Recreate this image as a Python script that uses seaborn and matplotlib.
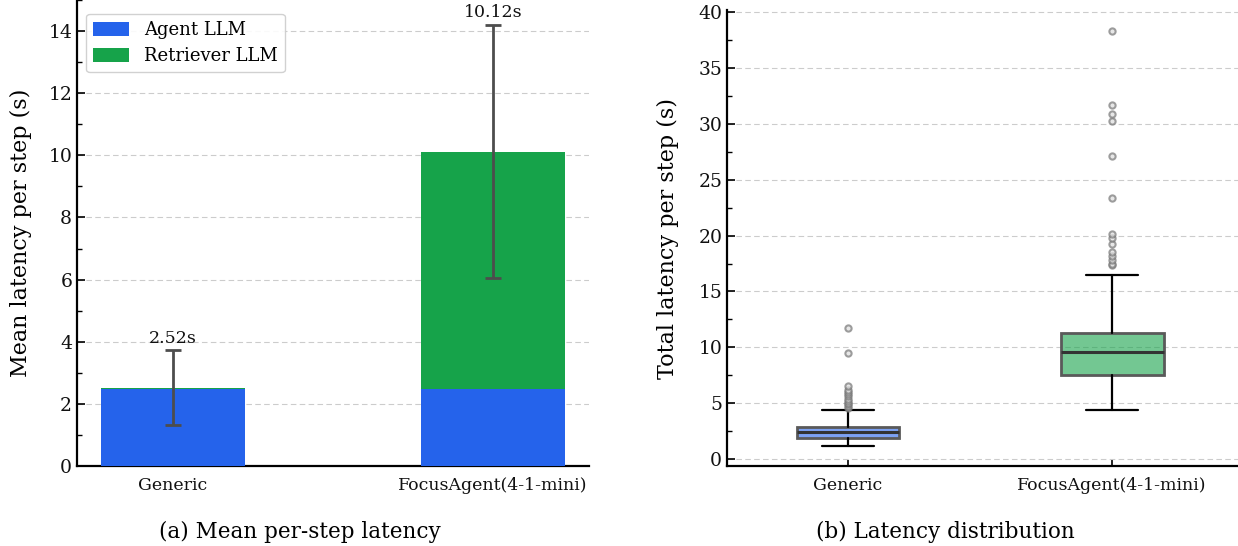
import matplotlib
matplotlib.use("Agg")
import matplotlib.pyplot as plt
import seaborn as sns
import numpy as np
from matplotlib.patches import Patch
from matplotlib.ticker import MultipleLocator

# ---------------- data ----------------
methods = ["Generic", "FocusAgent(4-1-mini)"]
agent_llm = [2.49, 2.48]
retriever_llm = [0.03, 7.64]
total_mean = [2.52, 10.12]
total_std = [1.20, 4.08]
mean_labels = ["2.52s", "10.12s"]

# box statistics
box_whislo = [1.16, 4.38]
box_q1 = [1.88, 7.55]
box_med = [2.39, 9.55]
box_q3 = [2.86, 11.30]
box_whishi = [4.38, 16.49]
fliers_generic = [4.60, 4.75, 4.90, 5.05, 5.20, 5.40, 5.60, 5.80, 6.00, 6.20, 6.50, 9.49, 11.72]
fliers_focus = [17.36, 17.50, 17.78, 18.14, 18.50, 19.21, 19.75, 20.11, 23.38, 27.14,
                30.22, 30.93, 31.65, 38.36]

BLUE = "#2563EB"
GREEN = "#16A34A"

sns.set_theme(style="ticks")
plt.rcParams["font.family"] = ["DejaVu Serif"]
plt.rcParams["axes.unicode_minus"] = False
plt.rcParams["text.color"] = "black"
plt.rcParams["axes.labelcolor"] = "black"
plt.rcParams["xtick.color"] = "black"
plt.rcParams["ytick.color"] = "black"
plt.rcParams["axes.edgecolor"] = "black"

fig = plt.figure(figsize=(12.38, 5.46), dpi=100)
ax1 = fig.add_axes([0.0622, 0.1465, 0.4136, 0.8535])
ax2 = fig.add_axes([0.5873, 0.1465, 0.4127, 0.8352])

# ---------------- (a) stacked bars ----------------
sns.barplot(x=methods, y=total_mean, color=GREEN, saturation=1, width=0.45,
            errorbar=None, ax=ax1, zorder=2, linewidth=0, edgecolor="none")
sns.barplot(x=methods, y=agent_llm, color=BLUE, saturation=1, width=0.45,
            errorbar=None, ax=ax1, zorder=3, linewidth=0, edgecolor="none")
ax1.errorbar(np.arange(len(methods)), total_mean, yerr=total_std, fmt="none",
             ecolor="#4d4d4d", elinewidth=2, capsize=5.5, capthick=2, zorder=4)
for i, (m, s, lab) in enumerate(zip(total_mean, total_std, mean_labels)):
    ax1.text(i, m + s + 0.12, lab, ha="center", va="bottom", fontsize=12.5, color="#111")

ax1.set_xlim(-0.3, 1.3)
ax1.set_ylim(0, 15.0)
ax1.yaxis.set_major_locator(MultipleLocator(2))
ax1.yaxis.set_minor_locator(MultipleLocator(1))
ax1.set_ylabel("Mean latency per step (s)", fontsize=16, labelpad=12)
ax1.set_xlabel("")
ax1.legend(handles=[Patch(facecolor=BLUE, edgecolor="none", label="Agent LLM"),
                    Patch(facecolor=GREEN, edgecolor="none", label="Retriever LLM")],
           loc="upper left", bbox_to_anchor=(0.0, 0.99), fontsize=13,
           frameon=True, edgecolor="#cccccc", framealpha=0.9, handlelength=2.0,
           handleheight=0.8, handletextpad=0.8,
           borderpad=0.4, labelspacing=0.45)
ax1.tick_params(axis="x", length=0, labelsize=12.5, pad=8)

# ---------------- (b) boxplot ----------------
stats = []
fl = [fliers_generic, fliers_focus]
for i, name in enumerate(methods):
    stats.append(dict(label=name, whislo=box_whislo[i], q1=box_q1[i], med=box_med[i],
                      q3=box_q3[i], whishi=box_whishi[i], fliers=fl[i]))
bp = ax2.bxp(stats, positions=[0, 1], widths=0.39, patch_artist=True,
             boxprops=dict(edgecolor="#5a5a5a", linewidth=2),
             medianprops=dict(color="#333333", linewidth=2.2),
             whiskerprops=dict(color="black", linewidth=1.6),
             capprops=dict(color="black", linewidth=1.6),
             flierprops=dict(marker="o", markersize=4.5, markerfacecolor="#dddddd",
                             markeredgecolor="#777777", markeredgewidth=1.5, alpha=0.7),
             capwidths=0.2, zorder=3)
for patch, c in zip(bp["boxes"], [BLUE, GREEN]):
    patch.set_facecolor(matplotlib.colors.to_rgba(c, 0.6))

ax2.set_xlim(-0.458, 1.477)
ax2.set_ylim(-0.63, 40.2)
ax2.yaxis.set_major_locator(MultipleLocator(5))
ax2.yaxis.set_minor_locator(MultipleLocator(2.5))
ax2.set_xticks([0, 1])
ax2.set_xticklabels(methods)
ax2.set_ylabel("Total latency per step (s)", fontsize=16, labelpad=14)
ax2.tick_params(axis="x", direction="in", length=4, width=1.2, labelsize=12.5, pad=8)

for ax in (ax1, ax2):
    sns.despine(ax=ax)
    ax.spines["left"].set_linewidth(1.6)
    ax.spines["bottom"].set_linewidth(1.6)
    ax.set_axisbelow(True)
    ax.grid(axis="y", linestyle=(0, (5, 3)), color="#cccccc", linewidth=0.8)
    ax.grid(axis="x", visible=False)
    ax.tick_params(axis="y", which="major", direction="in", length=6, width=1.2,
                   labelsize=13.5, color="black")
    ax.tick_params(axis="y", which="minor", direction="in", length=3.5, width=1.0,
                   color="black")
    for t in ax.get_xticklabels() + ax.get_yticklabels():
        t.set_color("#111111")

fig.text(0.2423, 0.026, "(a) Mean per-step latency", ha="center", va="center", fontsize=15.5)
fig.text(0.764, 0.026, "(b) Latency distribution", ha="center", va="center", fontsize=15.5)

fig.savefig("out.png", dpi=100)
